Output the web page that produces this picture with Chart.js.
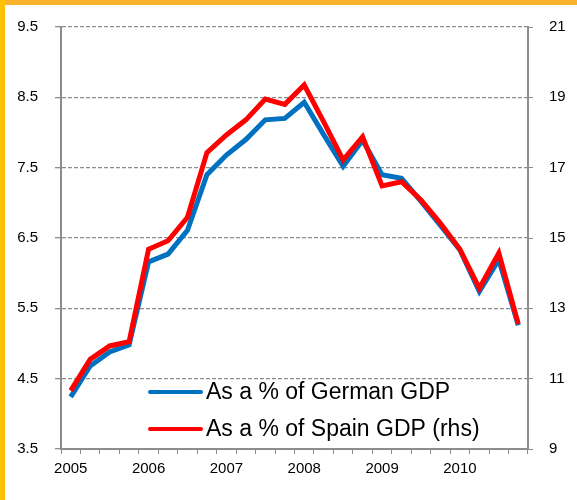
<!DOCTYPE html>
<html>
<head>
<meta charset="utf-8">
<script src="https://cdn.jsdelivr.net/npm/chart.js@4"></script>
<style>
html,body{margin:0;padding:0;background:#fff;}
#wrap{position:relative;width:577px;height:500px;}
#topbar{position:absolute;left:0;top:0;width:577px;height:5px;background:#FBB12C;}
#leftbar{position:absolute;left:0;top:0;width:5px;height:500px;background:#FFC000;}
canvas{position:absolute;left:0;top:0;}
</style>
</head>
<body>
<div id="wrap">
<canvas id="c" width="577" height="500"></canvas>
<div id="topbar"></div>
<div id="leftbar"></div>
</div>
<script>
const categories = ["2005","","","","2006","","","","2007","","","","2008","","","","2009","","","","2010","","",""];
const germanGDP = [4.24,4.68,4.88,4.98,6.16,6.27,6.61,7.40,7.68,7.90,8.18,8.20,8.43,7.97,7.52,7.89,7.40,7.35,7.02,6.68,6.33,5.74,6.19,5.26];
const spainGDP = [10.66,11.55,11.93,12.05,14.68,14.92,15.59,17.43,17.93,18.36,18.95,18.80,19.35,18.30,17.22,17.88,16.48,16.60,16.08,15.42,14.68,13.57,14.57,12.56];
const leftTicks = [3.5,4.5,5.5,6.5,7.5,8.5,9.5];
const rightTicks = [9,11,13,15,17,19,21];
const seriesNames = ["As a % of German GDP","As a % of Spain GDP (rhs)"];
const seriesColors = ["#0070C0","#FF0000"];

const FONT = "'Liberation Sans', Arial, sans-serif";
const GRID = "#8C8C8C";

const legendPlugin = {
  id: 'innerLegend',
  afterDatasetsDraw(chart) {
    const ctx = chart.ctx;
    ctx.save();
    const rows = [392, 429];
    chart.data.datasets.forEach((ds, i) => {
      const idx = ds.legendIndex;
      const y = rows[idx];
      ctx.strokeStyle = ds.borderColor;
      ctx.lineWidth = 4;
      ctx.lineCap = 'round';
      ctx.beginPath();
      ctx.moveTo(150, y);
      ctx.lineTo(201, y);
      ctx.stroke();
      ctx.fillStyle = '#000';
      ctx.font = "23px " + FONT;
      ctx.textBaseline = 'middle';
      ctx.textAlign = 'left';
      ctx.fillText(ds.label, 206, y + 1);
    });
    ctx.restore();
  }
};

new Chart(document.getElementById('c'), {
  type: 'line',
  data: {
    labels: categories,
    datasets: [
      {label: seriesNames[1], data: spainGDP, yAxisID: 'y1', borderColor: seriesColors[1], backgroundColor: seriesColors[1], borderWidth: 5, pointRadius: 0, tension: 0, order: 1, legendIndex: 1, borderJoinStyle: 'miter'},
      {label: seriesNames[0], data: germanGDP, yAxisID: 'y', borderColor: seriesColors[0], backgroundColor: seriesColors[0], borderWidth: 5, pointRadius: 0, tension: 0, order: 2, legendIndex: 0, borderJoinStyle: 'miter'}
    ]
  },
  options: {
    responsive: false,
    animation: false,
    layout: {padding: {top: 27, left: 0, right: 0, bottom: 0}},
    plugins: {legend: {display: false}, tooltip: {enabled: false}},
    scales: {
      x: {
        offset: true,
        grid: {display: true, drawOnChartArea: false, drawTicks: true, tickLength: 5, color: GRID, offset: true},
        border: {display: true, color: GRID, width: 2},
        ticks: {autoSkip: false, maxRotation: 0, minRotation: 0, color: '#000', font: {family: FONT, size: 15}, padding: 6},
        afterFit(s) { s.height = 51; }
      },
      y: {
        position: 'left',
        min: 3.5, max: 9.5,
        afterBuildTicks(s) { s.ticks = leftTicks.map(v => ({value: v})); },
        grid: {color: GRID, lineWidth: 1.3, tickLength: 6, tickColor: GRID},
        border: {display: true, color: GRID, width: 2, dash: [4,2]},
        ticks: {color: '#000', font: {family: FONT, size: 15}, padding: 17, callback: v => v.toFixed(1)},
        afterFit(s) { s.width = 61; }
      },
      y1: {
        position: 'right',
        min: 9, max: 21,
        afterBuildTicks(s) { s.ticks = rightTicks.map(v => ({value: v})); },
        grid: {drawOnChartArea: false, color: GRID, tickLength: 5},
        border: {display: true, color: GRID, width: 2},
        ticks: {color: '#000', font: {family: FONT, size: 15}, padding: 16},
        afterFit(s) { s.width = 49; }
      }
    }
  },
  plugins: [legendPlugin]
});
</script>
</body>
</html>
